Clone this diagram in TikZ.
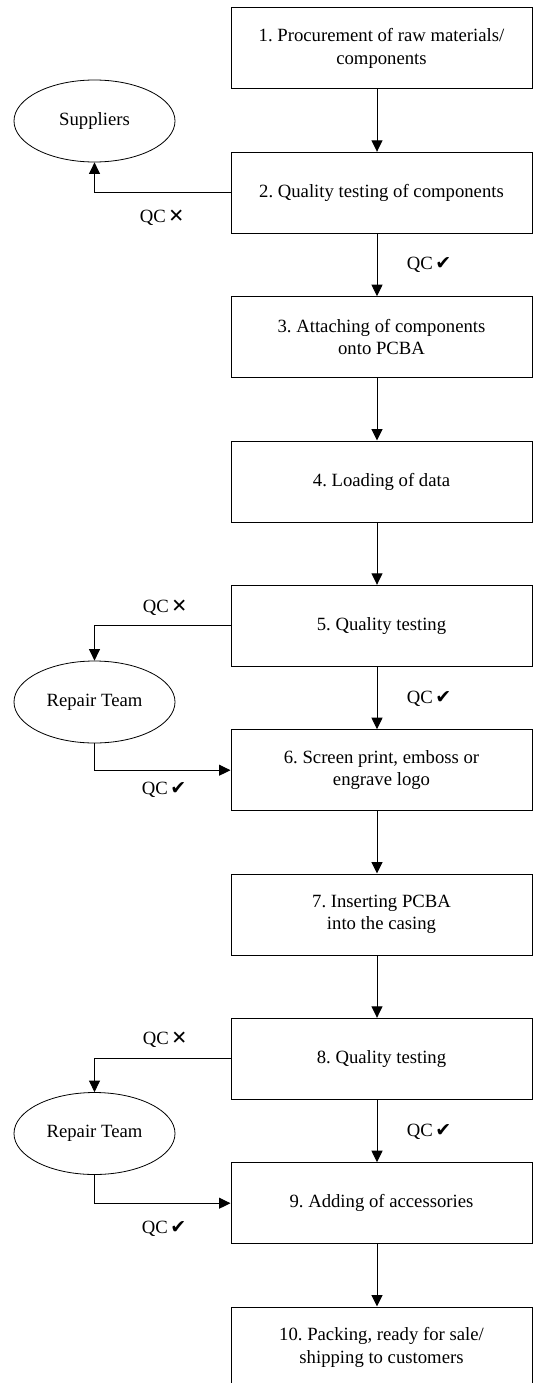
\documentclass[tikz,border=0pt]{standalone}
\usepackage{fontspec}
\setmainfont{Liberation Serif}
\newfontfamily\symfont{DejaVu Sans}
\usetikzlibrary{arrows.meta,shapes.geometric}
\frenchspacing

\newcommand{\qcok}{QC\kern2.5pt{\symfont\fontsize{19}{20}\selectfont ✔}}
\newcommand{\qcno}{QC\kern2.5pt{\symfont\fontsize{19}{20}\selectfont ✕}}

\tikzset{
  stepbox/.style={draw, line width=1pt, rectangle, minimum width=301pt, minimum height=81pt,
    inner sep=0pt, align=center, font=\fontsize{18.7}{22.5}\selectfont\frenchspacing},
  party/.style={draw, line width=0.8pt, ellipse, minimum width=161pt, minimum height=82pt,
    inner sep=0pt, font=\fontsize{18.7}{22.5}\selectfont},
  flow/.style={line width=1pt, -{Triangle[length=11.5pt,width=11pt]}},
  qclabel/.style={inner sep=0pt, font=\fontsize{18.7}{22.5}\selectfont}
}

\begin{document}
\begin{tikzpicture}[x=1pt,y=-1pt]
  \useasboundingbox (0,0) rectangle (533,1383);

  % process steps
  \node[stepbox] (b1)  at (381.5,48.5)   {1. Procurement of raw materials/\\components};
  \node[stepbox] (b2)  at (381.5,192.8)  {2. Quality testing of components};
  \node[stepbox] (b3)  at (381.5,337.2)  {3. Attaching of components\\onto PCBA};
  \node[stepbox] (b4)  at (381.5,481.5)  {4. Loading of data};
  \node[stepbox] (b5)  at (381.5,625.8)  {5. Quality testing};
  \node[stepbox] (b6)  at (381.5,770.2)  {6. Screen print, emboss or\\engrave logo};
  \node[stepbox] (b7)  at (381.5,914.5)  {7. Inserting PCBA\\into the casing};
  \node[stepbox] (b8)  at (381.5,1058.8) {8. Quality testing};
  \node[stepbox] (b9)  at (381.5,1203.2) {9. Adding of accessories};
  \node[stepbox] (b10) at (381.5,1347.5) {10. Packing, ready for sale/\\shipping to customers};

  % external parties
  \node[party] (sup) at (94.5,121)    {Suppliers};
  \node[party] (rt1) at (94.5,702)    {Repair Team};
  \node[party] (rt2) at (94.5,1133.5) {Repair Team};

  % main flow
  \foreach \a/\b in {b1/b2,b2/b3,b3/b4,b4/b5,b5/b6,b6/b7,b7/b8,b8/b9,b9/b10}
    \draw[flow] ([xshift=-4.5pt]\a.south) -- ([xshift=-4.5pt]\b.north);

  % rejections and repairs
  \draw[flow] (b2.west) -| (sup.south);
  \draw[flow] (b5.west) -| (rt1.north);
  \draw[flow] (rt1.south) |- (b6.west);
  \draw[flow] (b8.west) -| (rt2.north);
  \draw[flow] (rt2.south) |- (b9.west);

  % quality control labels
  \node[qclabel] (q1) at (162,218)    {\qcno};
  \node[qclabel] (q2) at (429,265)    {\qcok};
  \node[qclabel] (q3) at (165,607.5)  {\qcno};
  \node[qclabel] (q4) at (429,699)    {\qcok};
  \node[qclabel] (q5) at (164,790)    {\qcok};
  \node[qclabel] (q6) at (165,1040)   {\qcno};
  \node[qclabel] (q7) at (429,1132)   {\qcok};
  \node[qclabel] (q8) at (164,1229)   {\qcok};
\end{tikzpicture}
\end{document}
